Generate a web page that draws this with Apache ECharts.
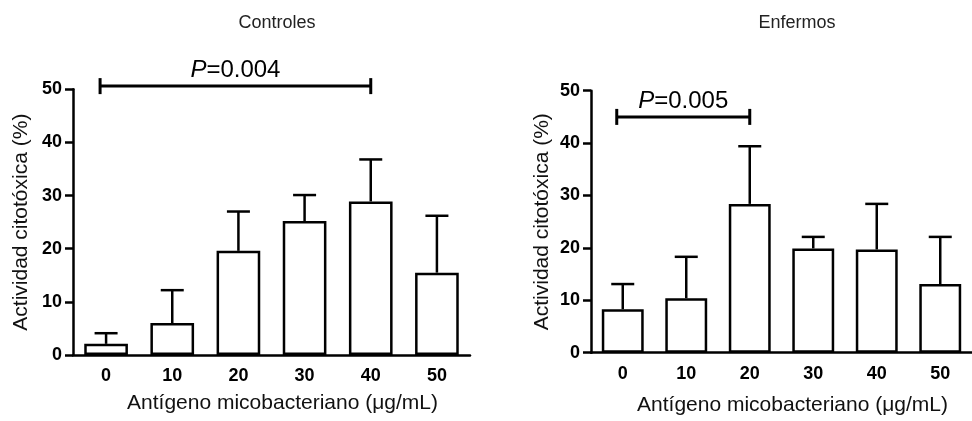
<!DOCTYPE html>
<html>
<head>
<meta charset="utf-8">
<script src="https://cdn.jsdelivr.net/npm/echarts@6/dist/echarts.min.js"></script>
<style>
  html, body { margin: 0; padding: 0; background: #fff; }
  #chart { width: 972px; height: 421px; }
</style>
</head>
<body>
<div id="chart"></div>
<script>
// Antigen doses (µg/mL) shown on both panels
const doses = ['0', '10', '20', '30', '40', '50'];
const yTicks = [0, 10, 20, 30, 40, 50];

// Cytotoxic activity (%) — mean and mean + SD
const controlMean  = [2.1, 6.0, 19.6, 25.2, 28.9, 15.5];
const controlUpper = [4.1, 12.2, 27.0, 30.1, 36.8, 26.2];
const patientMean  = [8.3, 10.4, 28.4, 19.9, 19.7, 13.1];
const patientUpper = [13.1, 18.3, 39.4, 22.1, 28.4, 22.1];

// Significance brackets: first dose index, last dose index, height, p value
const controlSig = [0, 4, 50.6, '0.004'];
const patientSig = [0, 2, 45, '0.005'];

const FONT = "'Liberation Sans', Arial, sans-serif";
const INK = '#000';
const LW = 2.5;
const yName = 'Actividad citotóxica (%)';
const xName = 'Antígeno micobacteriano (\u03bcg/mL)';

function xAxisFor(gridIndex, gap) {
  return {
    type: 'category', gridIndex, data: doses,
    axisLine: { lineStyle: { color: INK, width: LW } },
    axisTick: { alignWithLabel: true, length: 8, lineStyle: { color: INK, width: LW } },
    axisLabel: { color: INK, fontFamily: FONT, fontSize: 18, fontWeight: 'bold', margin: 12 },
    name: xName, nameLocation: 'middle', nameGap: gap,
    nameTextStyle: { color: '#111', fontFamily: FONT, fontSize: 21, padding: [0, 0, 0, 22] }
  };
}

function yAxisFor(gridIndex, gap) {
  return {
    type: 'value', gridIndex, min: yTicks[0], max: yTicks[yTicks.length - 1], interval: 10,
    splitLine: { show: false },
    axisLine: { show: true, lineStyle: { color: INK, width: LW } },
    axisTick: { show: true, length: 8, lineStyle: { color: INK, width: LW } },
    axisLabel: { color: INK, fontFamily: FONT, fontSize: 18, fontWeight: 'bold', margin: 11 },
    name: yName, nameLocation: 'middle', nameRotate: 90, nameGap: gap,
    nameTextStyle: { color: '#111', fontFamily: FONT, fontSize: 21 }
  };
}

function barSeries(idx, values) {
  return {
    type: 'bar', xAxisIndex: idx, yAxisIndex: idx, data: values, barWidth: '66%',
    itemStyle: { color: '#fff', borderColor: INK, borderWidth: LW },
    silent: true, z: 2
  };
}

// Upward error bars with a short cap
function errorSeries(idx, mean, upper) {
  return {
    type: 'custom', xAxisIndex: idx, yAxisIndex: idx, z: 3, silent: true,
    data: mean.map((m, i) => [i, m, upper[i]]),
    renderItem(params, api) {
      const base = api.coord([api.value(0), api.value(1)]);
      const top = api.coord([api.value(0), api.value(2)]);
      const half = 11.5;
      const style = { stroke: INK, lineWidth: LW };
      return {
        type: 'group',
        children: [
          { type: 'line', shape: { x1: base[0], y1: base[1], x2: top[0], y2: top[1] }, style },
          { type: 'line', shape: { x1: top[0] - half, y1: top[1], x2: top[0] + half, y2: top[1] }, style }
        ]
      };
    }
  };
}

// Bracket between two doses with the p value above it
function sigSeries(idx, sig) {
  return {
    type: 'custom', xAxisIndex: idx, yAxisIndex: idx, z: 4, silent: true, clip: false,
    data: [sig],
    renderItem(params, api) {
      const a = api.coord([api.value(0), api.value(2)]);
      const b = api.coord([api.value(1), api.value(2)]);
      const x1 = a[0] - 6, x2 = b[0], y = a[1], h = 8;
      const style = { stroke: INK, lineWidth: 3 };
      return {
        type: 'group',
        children: [
          { type: 'line', shape: { x1, y1: y, x2, y2: y }, style },
          { type: 'line', shape: { x1, y1: y - h, x2: x1, y2: y + h }, style },
          { type: 'line', shape: { x1: x2, y1: y - h, x2, y2: y + h }, style },
          {
            type: 'text',
            style: {
              x: (x1 + x2) / 2, y: y - 16,
              text: '{i|P}=' + sig[3],
              align: 'center', verticalAlign: 'middle',
              fontFamily: FONT, fontSize: 24, fill: INK,
              rich: { i: { fontStyle: 'italic', fontFamily: FONT, fontSize: 24 } }
            }
          }
        ]
      };
    }
  };
}

const chart = echarts.init(document.getElementById('chart'), null, { renderer: 'canvas' });
chart.setOption({
  animation: false,
  backgroundColor: '#fff',
  title: [
    { text: 'Controles', left: 272, top: 9, textAlign: 'center',
      textStyle: { color: '#222', fontFamily: FONT, fontSize: 18, fontWeight: 'normal' } },
    { text: 'Enfermos', left: 792, top: 9, textAlign: 'center',
      textStyle: { color: '#222', fontFamily: FONT, fontSize: 18, fontWeight: 'normal' } }
  ],
  grid: [
    { left: 73, top: 89.3, width: 397, height: 265.7 },
    { left: 591, top: 90.7, width: 392, height: 262 }
  ],
  xAxis: [xAxisFor(0, 38), xAxisFor(1, 42)],
  yAxis: [yAxisFor(0, 41), yAxisFor(1, 38)],
  series: [
    barSeries(0, controlMean),
    errorSeries(0, controlMean, controlUpper),
    sigSeries(0, controlSig),
    barSeries(1, patientMean),
    errorSeries(1, patientMean, patientUpper),
    sigSeries(1, patientSig)
  ]
});
</script>
</body>
</html>
